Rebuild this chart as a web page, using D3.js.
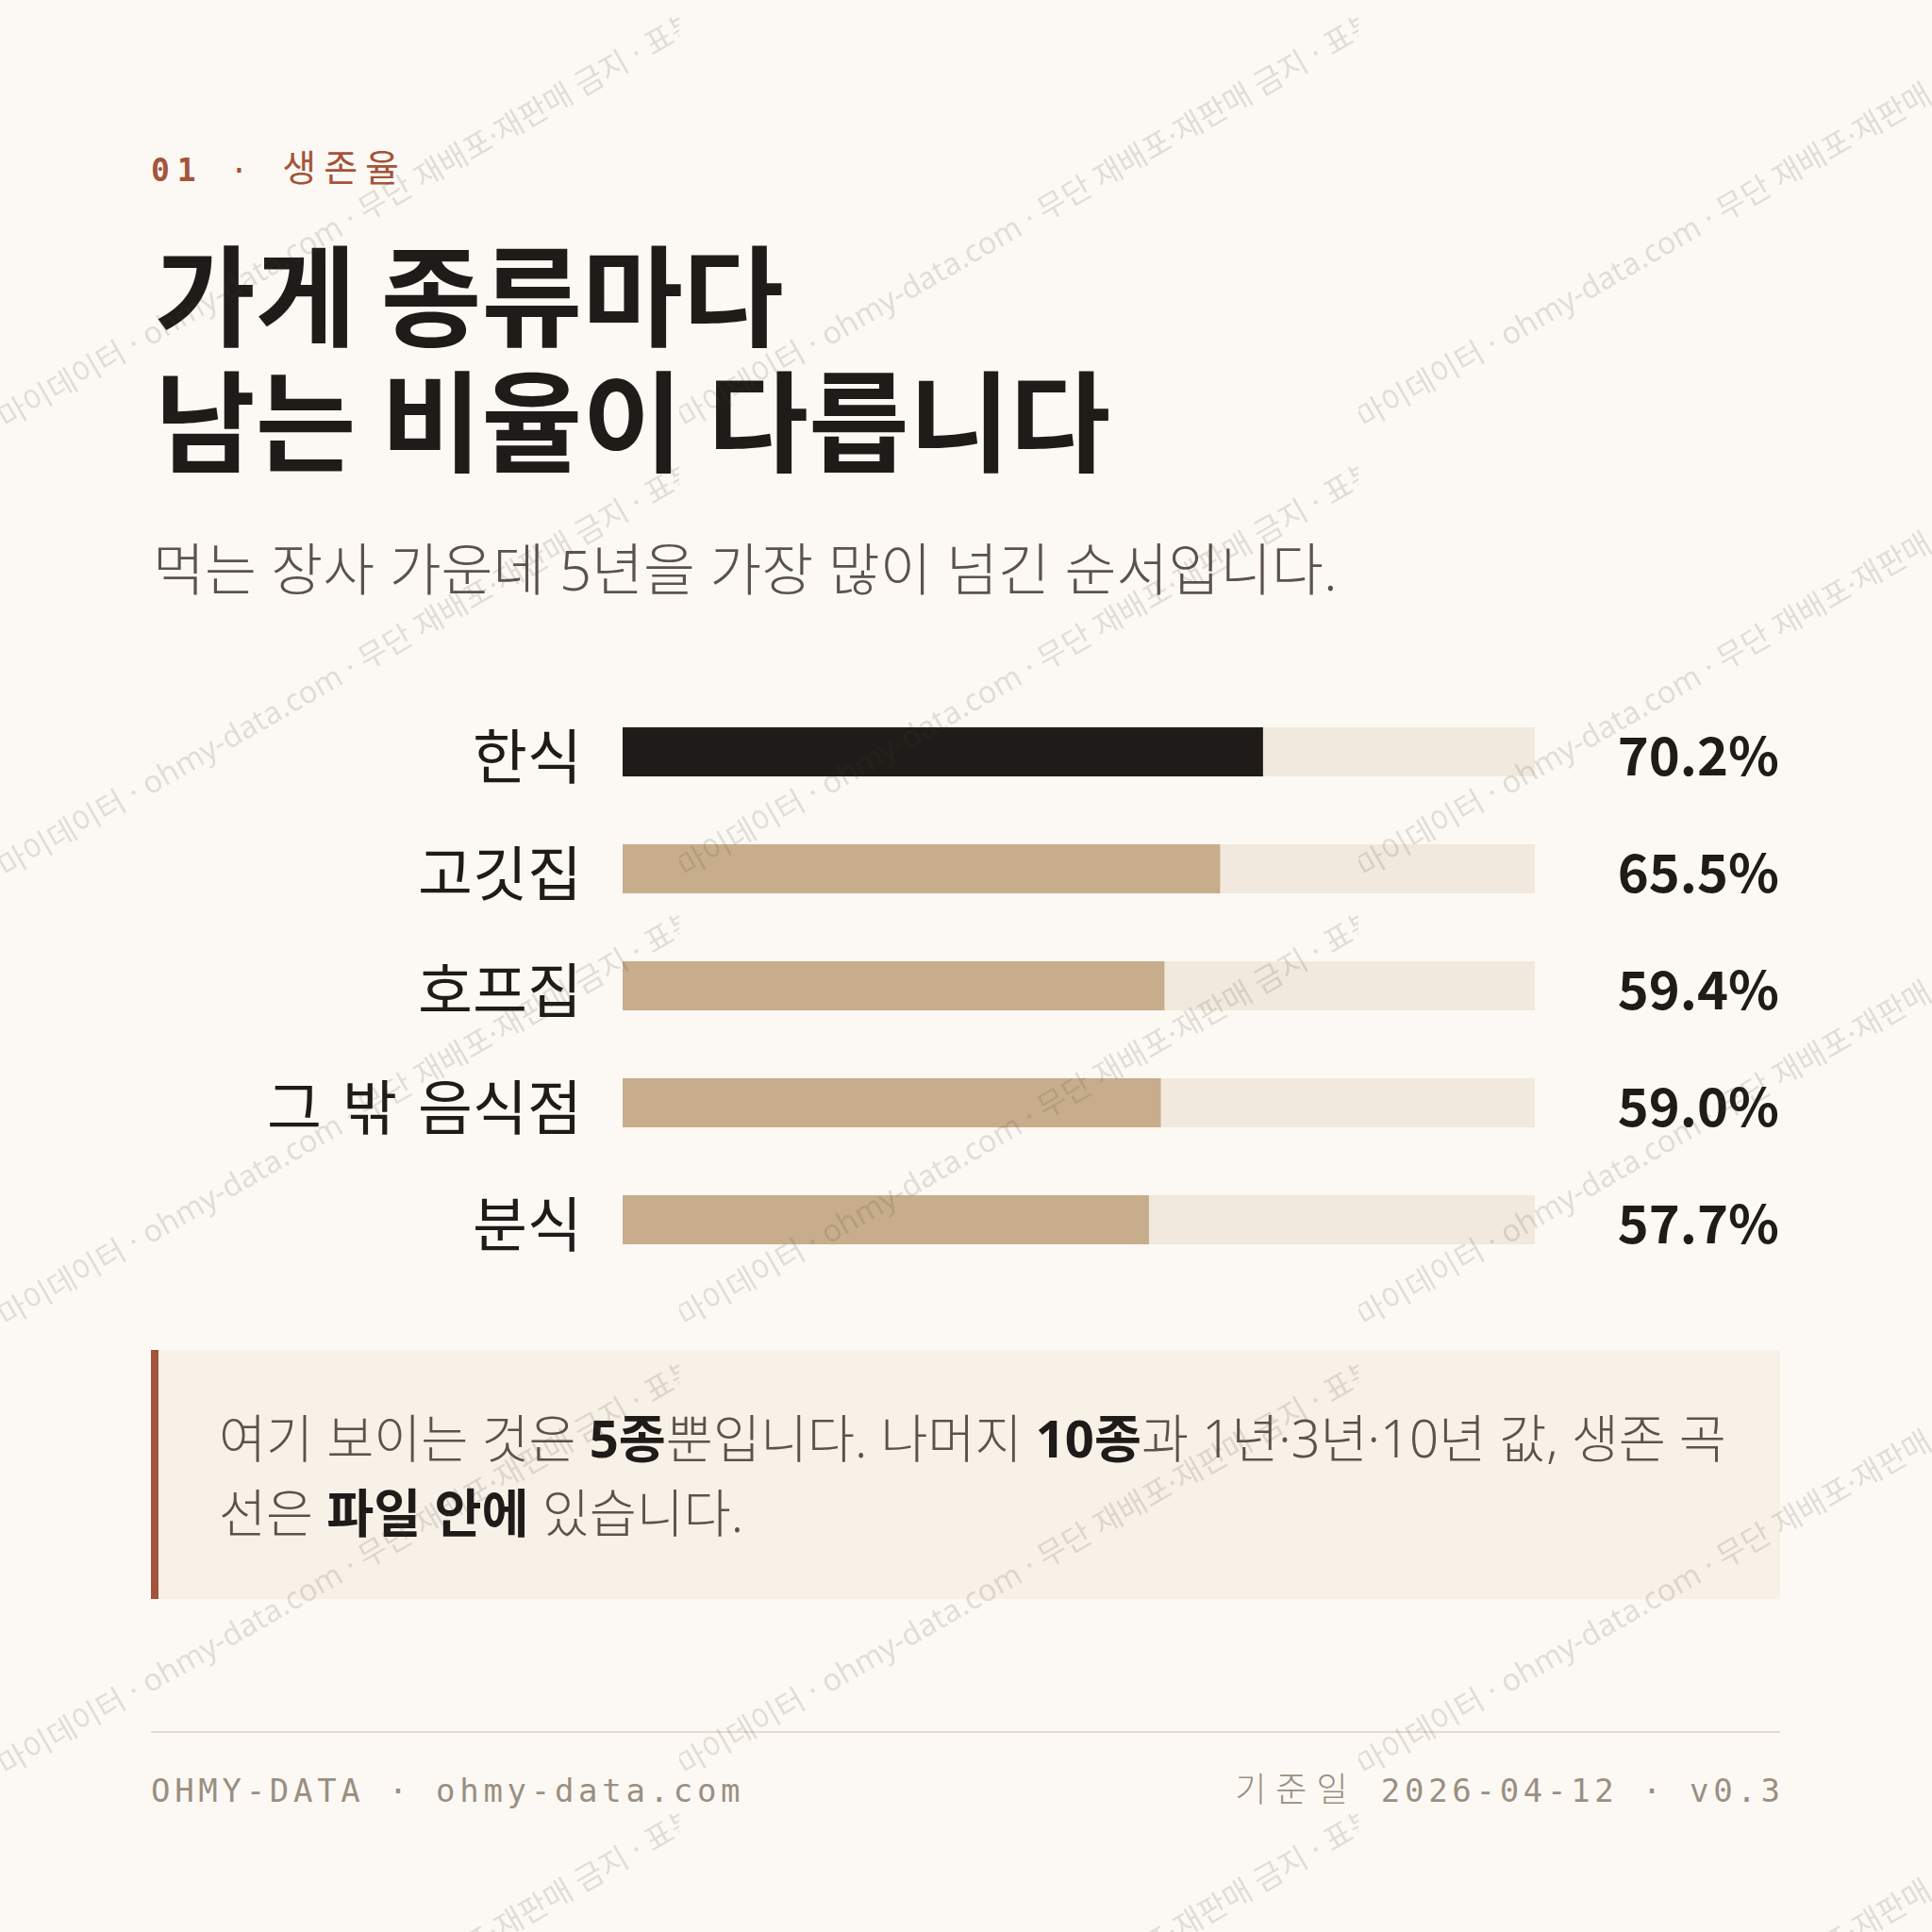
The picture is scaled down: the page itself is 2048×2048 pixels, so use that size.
<!DOCTYPE html>
<html>
<head>
<meta charset="utf-8">
<script src="https://cdn.jsdelivr.net/npm/d3@7"></script>
<style>
  html, body { margin: 0; padding: 0; background: #fcf9f4; }
  svg { display: block; }
</style>
</head>
<body>
<div id="chart"></div>
<script>
// Data
var categories = ["한식", "고깃집", "호프집", "그 밖 음식점", "분식"];
var survival5y = [70.2, 65.5, 59.4, 59.0, 57.7];
var highlighted = "한식";

var eyebrowNumber = "01";
var eyebrowLabel = "생존율";
var titleLines = ["가게 종류마다", "남는 비율이 다릅니다"];
var subtitle = "먹는 장사 가운데 5년을 가장 많이 넘긴 순서입니다.";

// each line: [text, bold?]
var noteLines = [
    [["여기 보이는 것은 ", false], ["5종", true], ["뿐입니다. 나머지 ", false], ["10종", true], ["과 1년·3년·10년 값, 생존 곡", false]],
    [["선은 ", false], ["파일 안에", true], [" 있습니다.", false]]
];

var footerLeft = "OHMY-DATA · ohmy-data.com";
var footerRight = ["기준일", "2026-04-12 · v0.3"];
var watermarkText = "· 마이데이터 · ohmy-data.com · 무단 재배포·재판매 금지 · 표본 데이터 ·";

var W = 2048, H = 2048;
var LEFT = 160, RIGHT = 1887;
var KR = "'Noto Sans CJK KR', 'Noto Sans', sans-serif";
var MIX = "'Noto Sans', 'Noto Sans CJK KR', sans-serif";   // latin + narrow dots from Noto Sans
var MONO = "'DejaVu Sans Mono', 'Noto Sans CJK KR', monospace";

var C = {
    bg: "#fcf9f4",
    ink: "#1f1b18",
    grey: "#5b534b",
    rust: "#a5533b",
    tan: "#c8ad8c",
    track: "#f1e9dd",
    note: "#f7f1e8",
    rule: "#e4dccf",
    foot: "#9a8f82"
};

var svg = d3.select("#chart").append("svg")
    .attr("width", W)
    .attr("height", H);

svg.append("rect").attr("width", W).attr("height", H).attr("fill", C.bg);

// Eyebrow
var eyebrow = svg.append("text")
    .attr("x", LEFT)
    .attr("y", 192)
    .attr("font-family", MONO)
    .attr("font-size", 33)
    .attr("letter-spacing", 8)
    .attr("fill", C.rust);
eyebrow.append("tspan").attr("font-weight", 700).text(eyebrowNumber);
eyebrow.append("tspan").text(" · ");
eyebrow.append("tspan").attr("font-family", KR).attr("font-size", 39).text(eyebrowLabel);

// Title
svg.selectAll("text.title")
    .data(titleLines)
    .enter()
    .append("text")
    .attr("class", "title")
    .attr("x", LEFT + 4)
    .attr("y", function(d, i) { return 358 + i * 133; })
    .attr("font-family", KR)
    .attr("font-weight", 700)
    .attr("font-size", 116)
    .attr("fill", C.ink)
    .text(function(d) { return d; });

// Subtitle
svg.append("text")
    .attr("x", LEFT + 2)
    .attr("y", 626)
    .attr("font-family", MIX)
    .attr("font-weight", 300)
    .attr("font-size", 59.7)
    .attr("fill", C.grey)
    .text(subtitle);

// Bars
var x = d3.scaleLinear().domain([0, 100]).range([660, 1627]);
var y = d3.scaleBand()
    .domain(categories)
    .range([735, 1355])
    .paddingInner(0.58)
    .paddingOuter(0.29);

var rows = svg.selectAll("g.row")
    .data(categories)
    .enter()
    .append("g")
    .attr("class", "row")
    .attr("transform", function(d) { return "translate(0," + y(d) + ")"; });

rows.append("rect")
    .attr("x", x(0))
    .attr("width", x(100) - x(0))
    .attr("height", y.bandwidth())
    .attr("fill", C.track);

rows.append("rect")
    .attr("x", x(0))
    .attr("width", function(d, i) { return x(survival5y[i]) - x(0); })
    .attr("height", y.bandwidth())
    .attr("fill", function(d) { return d === highlighted ? C.ink : C.tan; });

rows.append("text")
    .attr("x", 617)
    .attr("y", y.bandwidth() / 2 + 28)
    .attr("text-anchor", "end")
    .attr("font-family", KR)
    .attr("font-size", 63)
    .attr("word-spacing", 8)
    .attr("fill", C.ink)
    .text(function(d) { return d; });

var fmt = d3.format(".1f");
rows.append("text")
    .attr("x", RIGHT - 1)
    .attr("y", y.bandwidth() / 2 + 25)
    .attr("text-anchor", "end")
    .attr("font-family", KR)
    .attr("font-weight", 700)
    .attr("font-size", 56)
    .attr("fill", C.ink)
    .text(function(d, i) { return fmt(survival5y[i]) + "%"; });

// Note box
svg.append("rect")
    .attr("x", LEFT)
    .attr("y", 1431)
    .attr("width", RIGHT - LEFT)
    .attr("height", 264)
    .attr("fill", C.note);
svg.append("rect")
    .attr("x", LEFT)
    .attr("y", 1431)
    .attr("width", 8)
    .attr("height", 264)
    .attr("fill", C.rust);

noteLines.forEach(function(line, i) {
    var t = svg.append("text")
        .attr("x", 232)
        .attr("y", 1545 + i * 79)
        .attr("font-family", MIX)
        .attr("font-size", 54.4);
    line.forEach(function(part) {
        t.append("tspan")
            .attr("font-weight", part[1] ? 700 : 300)
            .attr("fill", part[1] ? C.ink : C.grey)
            .text(part[0]);
    });
});

// Footer
svg.append("line")
    .attr("x1", LEFT).attr("x2", RIGHT)
    .attr("y1", 1836).attr("y2", 1836)
    .attr("stroke", C.rule)
    .attr("stroke-width", 2);

svg.append("text")
    .attr("x", LEFT)
    .attr("y", 1910)
    .attr("font-family", MONO)
    .attr("font-size", 34)
    .attr("letter-spacing", 4.7)
    .attr("fill", C.foot)
    .text(footerLeft);

var fr = svg.append("text")
    .attr("x", RIGHT + 4.7)
    .attr("y", 1910)
    .attr("text-anchor", "end")
    .attr("font-family", MONO)
    .attr("font-size", 34)
    .attr("letter-spacing", 4.7)
    .attr("fill", C.foot);
fr.append("tspan").attr("font-family", KR).attr("font-weight", 300)
    .attr("font-size", 36).attr("letter-spacing", 10).text(footerRight[0]);
fr.append("tspan").text(" " + footerRight[1]);

// Watermark: rotated text in a 720x476 tile, roughly centred on the dot after the url
var TW = 720, TH = 476;
var wmFont = 32.5;
var wmShift = 13;
var probe = svg.append("text")
    .attr("font-family", MIX)
    .attr("font-size", wmFont)
    .text(watermarkText);
var mid = watermarkText.indexOf("· 무단");
var midPos = probe.node().getSubStringLength(0, mid) + probe.node().getSubStringLength(mid, 1) / 2;
probe.remove();

var pattern = svg.append("defs").append("pattern")
    .attr("id", "wm")
    .attr("patternUnits", "userSpaceOnUse")
    .attr("width", TW)
    .attr("height", TH);

pattern.append("text")
    .attr("x", TW / 2 - midPos + wmShift)
    .attr("y", TH / 2)
    .attr("dy", "0.35em")
    .attr("transform", "rotate(-30," + TW / 2 + "," + TH / 2 + ")")
    .attr("font-family", MIX)
    .attr("font-size", wmFont)
    .attr("fill", "rgba(70,60,50,0.15)")
    .text(watermarkText);

svg.append("rect")
    .attr("width", W)
    .attr("height", H)
    .attr("fill", "url(#wm)")
    .attr("pointer-events", "none");
</script>
</body>
</html>
